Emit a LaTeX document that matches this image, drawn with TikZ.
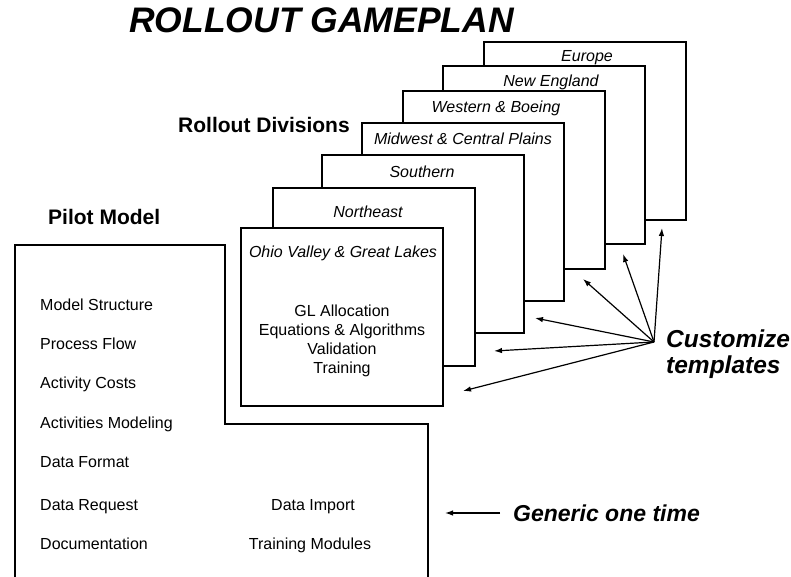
\documentclass[tikz,border=0pt]{standalone}
\usepackage{fontspec}
\setmainfont{Liberation Sans}
\usetikzlibrary{arrows.meta}
\begin{document}
\begin{tikzpicture}[x=1pt,y=-1pt,
  divbox/.style={draw=black, fill=white, line width=1.5pt, minimum width=202pt, minimum height=178pt, inner sep=0pt},
  divlabel/.style={anchor=base, font=\fontsize{16}{19}\selectfont\itshape, inner sep=0pt},
  bodytext/.style={anchor=base, font=\fontsize{16}{19}\selectfont, inner sep=0pt},
  item/.style={anchor=base west, font=\fontsize{16}{19}\selectfont, inner sep=0pt},
  heading/.style={anchor=base west, font=\fontsize{21}{25}\selectfont\bfseries, inner sep=0pt},
  callout/.style={anchor=base west, font=\fontsize{24.5}{28}\selectfont\bfseries\itshape, inner sep=0pt},
  pointer/.style={-{Latex[length=8pt,width=5.5pt]}, line width=1.2pt},
  pilotline/.style={draw=black, line width=1.5pt}
]
\useasboundingbox (0,0) rectangle (791,577);
\clip (0,0) rectangle (791,577);

% title
\node[anchor=base west, font=\fontsize{35.5}{40}\selectfont\bfseries\itshape, inner sep=0pt] (title) at (129,33) {ROLLOUT GAMEPLAN};

% headings
\node[heading] (rolldiv) at (178,133) {Rollout Divisions};
\node[heading] (pilot) at (48,225) {Pilot Model};

% stacked division boxes (back to front)
\node[divbox] (eu) at (585,131) {};
\node[divlabel] (eul) at (587,61.5) {Europe};
\node[divbox] (ne2) at (544,155) {};
\node[divlabel] (ne2l) at (551,87) {New England};
\node[divbox] (wb) at (504,180) {};
\node[divlabel] (wbl) at (496,113) {Western \& Boeing};
\node[divbox] (mw) at (463,212) {};
\node[divlabel] (mwl) at (463,145) {Midwest \& Central Plains};
\node[divbox] (so) at (423,244) {};
\node[divlabel] (sol) at (422,178) {Southern};
\node[divbox] (ne) at (374,277) {};
\node[divlabel] (nel) at (368,218) {Northeast};
\node[divbox] (ov) at (342,317) {};
\node[divlabel] (ovl) at (343,257) {Ohio Valley \& Great Lakes};
\node[bodytext] (gl) at (342,316) {GL Allocation};
\node[bodytext] (eq) at (342,335) {Equations \& Algorithms};
\node[bodytext] (va) at (342,354) {Validation};
\node[bodytext] (tr) at (342,373) {Training};

% pilot model L-shaped box
\draw[pilotline] (15,600) -- (15,245) -- (225,245) -- (225,424) -- (428,424) -- (428,600);
\node[item] (i1) at (40,310) {Model Structure};
\node[item] (i2) at (40,349) {Process Flow};
\node[item] (i3) at (40,388) {Activity Costs};
\node[item] (i4) at (40,428) {Activities Modeling};
\node[item] (i5) at (40,467) {Data Format};
\node[item] (i6) at (40,510) {Data Request};
\node[item] (i7) at (40,549) {Documentation};
\node[bodytext] (i8) at (313,510) {Data Import};
\node[bodytext] (i9) at (310,549) {Training Modules};

% customize templates
\node[callout] (cust) at (666,347.5) {Customize};
\node[callout] (tmpl) at (666,373.5) {templates};
\coordinate (hub) at (654,342);
\coordinate (t1) at (463,391);
\coordinate (t2) at (494,351);
\coordinate (t3) at (535,318);
\coordinate (t4) at (583,279);
\coordinate (t5) at (623,254);
\coordinate (t6) at (662,228);
\foreach \t in {t1,t2,t3,t4,t5,t6} \draw[pointer] (hub) -- (\t);

% generic one time
\node[anchor=base west, font=\fontsize{23}{27}\selectfont\bfseries\itshape, inner sep=0pt] (gen) at (513,521.5) {Generic one time};
\coordinate (gs) at (500,513);
\coordinate (ge) at (445,513);
\draw[pointer] (gs) -- (ge);
\end{tikzpicture}
\end{document}
